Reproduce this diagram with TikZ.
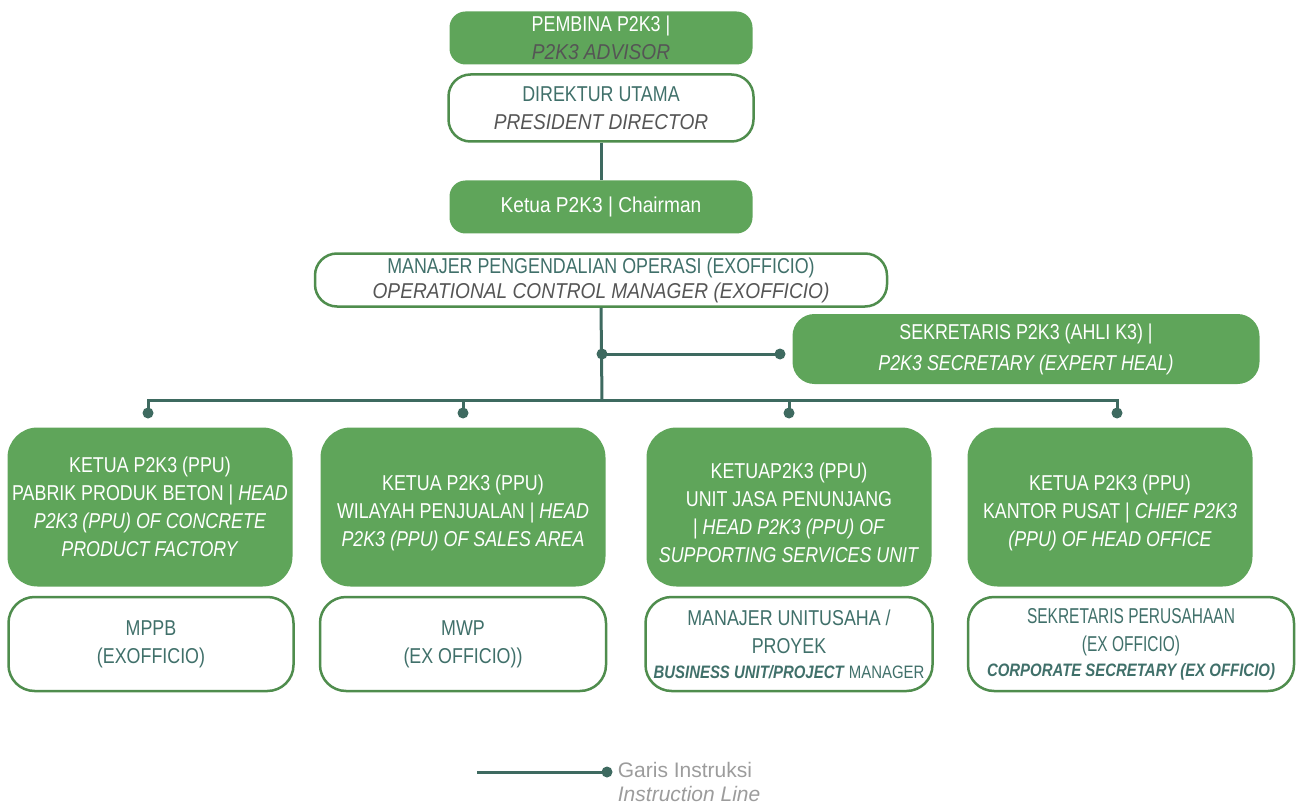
\documentclass[tikz,border=0pt]{standalone}
\usepackage{fontspec}
\setmainfont{Liberation Sans}[FakeStretch=0.83]
\newfontfamily\widefont{Liberation Sans}[FakeStretch=0.89]
\newfontfamily\narrowfont{Liberation Sans}[FakeStretch=0.72]
\newfontfamily\legendfont{Liberation Sans}
\usepackage{xcolor}
\usetikzlibrary{positioning}
\definecolor{boxgreen}{HTML}{5FA55A}
\definecolor{edgegreen}{HTML}{4F8D4D}
\definecolor{linecol}{HTML}{3E6A60}
\definecolor{tealtext}{HTML}{40706A}
\definecolor{greytext}{HTML}{555555}
\definecolor{legendgrey}{HTML}{9C9C9C}

\begin{document}
\begin{tikzpicture}[x=1pt,y=-1pt]
        \tikzstyle{green box}=[fill=boxgreen,text=white,rounded corners=16pt,align=center,inner sep=0pt,font=\fontsize{21.5}{28}\selectfont]
        \tikzstyle{white box}=[draw=edgegreen,line width=2.5pt,fill=white,text=tealtext,rounded corners=22pt,align=center,inner sep=0pt,font=\fontsize{21.5}{28}\selectfont]
        \tikzstyle{unit}=[green box,minimum width=285pt,minimum height=159pt,rounded corners=30pt]
        \tikzstyle{member}=[white box,minimum height=94pt,rounded corners=26pt]
        \tikzstyle{wire}=[draw=linecol,line width=3pt]
        \tikzstyle{dot}=[circle,fill=linecol,inner sep=0pt,minimum size=11pt]
        \useasboundingbox (0,0) rectangle (1301,805);

        % top of the chart
        \node[green box,minimum width=303pt,minimum height=53pt] (Pb) at (601,38) {PEMBINA P2K3 |\\ {\color{greytext}\widefont\itshape P2K3 ADVISOR}};
        \node[white box,minimum width=305pt,minimum height=67pt] (Du) at (601,108) {DIREKTUR UTAMA\\ {\color{greytext}\widefont\itshape PRESIDENT DIRECTOR}};
        \node[green box,minimum width=303pt,minimum height=53pt,font=\widefont\fontsize{21.5}{28}\selectfont] (Kt) at (601,207) {Ketua P2K3 | Chairman};
        \node[white box,minimum width=572pt,minimum height=53pt] (Mpo) at (601,280) {MANAJER PENGENDALIAN OPERASI (EXOFFICIO)\\[-3pt] {\color{greytext}\widefont\itshape OPERATIONAL CONTROL MANAGER (EXOFFICIO)}};
        \node[green box,minimum width=467pt,minimum height=70pt,rounded corners=22pt] (Sk) at (1026,349) {SEKRETARIS P2K3 (AHLI K3) |\\[3pt] \itshape P2K3 SECRETARY (EXPERT HEAL)};

        % units
        \node[unit] (U1) at (150,507) {KETUA P2K3 (PPU)\\ PABRIK PRODUK BETON | \textit{HEAD}\\ \textit{P2K3 (PPU) OF CONCRETE}\\ \textit{PRODUCT FACTORY}};
        \node[unit] (U2) at (463,507) {\mbox{}\\ KETUA P2K3 (PPU)\\ WILAYAH PENJUALAN | \textit{HEAD}\\ \textit{P2K3 (PPU) OF SALES AREA}};
        \node[unit] (U3) at (789,507) {\mbox{}\\ KETUAP2K3 (PPU)\\ UNIT JASA PENUNJANG\\ | \textit{HEAD P2K3 (PPU) OF}\\ \textit{SUPPORTING SERVICES UNIT}};
        \node[unit] (U4) at (1110,507) {\mbox{}\\ KETUA P2K3 (PPU)\\ KANTOR PUSAT | \textit{CHIEF P2K3}\\ \textit{(PPU) OF HEAD OFFICE}};

        \node[member,minimum width=285pt] (M1) at (151,644) {MPPB\\ (EXOFFICIO)};
        \node[member,minimum width=286pt] (M2) at (463,644) {MWP\\ (EX OFFICIO))};
        \node[member,minimum width=287pt] (M3) at (789,644) {MANAJER UNITUSAHA /\\ PROYEK\\[-3pt] {\fontsize{18}{20}\selectfont\textbf{\textit{BUSINESS UNIT/PROJECT}} MANAGER}};
        \node[member,minimum width=326pt] (M4) at (1131,644) {{\narrowfont SEKRETARIS PERUSAHAAN}\\ {\narrowfont (EX OFFICIO)}\\[-3pt] {\fontsize{18}{20}\selectfont\bfseries\itshape CORPORATE SECRETARY (EX OFFICIO)}};

        % instruction lines
        \coordinate (bus) at (602,400);
        \node[dot] (j) at (602,354) {};
        \node[dot] (sd) at (780,354) {};
        \foreach \x/\n in {148/a,463/b,789/c,1117/d}
            \node[dot] (d\n) at (\x,413) {};
        \path[wire] (Du) edge (Kt);
        \draw[wire] (Mpo.south) -- (bus);
        \draw[wire] (j.center) -- (sd.center);
        \draw[wire] (da.center) |- (bus) -| (dd.center);
        \draw[wire] (db.center) -- (db.center |- bus);
        \draw[wire] (dc.center) -- (dc.center |- bus);

        % legend
        \coordinate (lgs) at (477,772);
        \node[dot] (lgd) at (607,772) {};
        \draw[wire] (lgs) -- (lgd.center);
        \node[right=5pt of lgd,yshift=-10pt,align=left,inner sep=0pt,text=legendgrey,font=\legendfont\fontsize{21}{24}\selectfont] (lg) {Garis Instruksi\\ \itshape Instruction Line};
\end{tikzpicture}
\end{document}
